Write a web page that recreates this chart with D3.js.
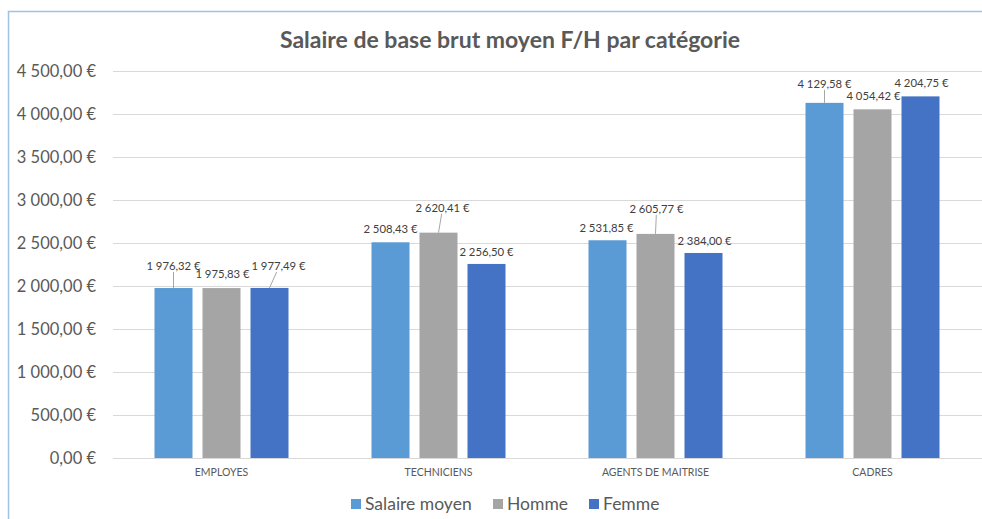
<!DOCTYPE html>
<html>
<head>
<meta charset="utf-8">
<script src="https://cdn.jsdelivr.net/npm/d3@7"></script>
<style>
  body { margin: 0; background: #fff; }
  svg { display: block; font-family: Lato, "Open Sans", sans-serif; }
</style>
</head>
<body>
<div id="chart"></div>
<script>
// data
const categories = ["EMPLOYES", "TECHNICIENS", "AGENTS DE MAITRISE", "CADRES"];
const seriesNames = ["Salaire moyen", "Homme", "Femme"];
const salaireMoyen = [1976.32, 2508.43, 2531.85, 4129.58];
const homme = [1975.83, 2620.41, 2605.77, 4054.42];
const femme = [1977.49, 2256.50, 2384.00, 4204.75];
const yTicks = [0, 500, 1000, 1500, 2000, 2500, 3000, 3500, 4000, 4500];

// layout
const width = 982, height = 519;
const margin = {top: 71, bottom: 61, left: 113, right: 1};
const colors = ["#5B9BD5", "#A5A5A5", "#4472C4"];
// label nudges [dx, dy] per category / series (Excel moved some labels)
const labelNudge = [
  [[0, -10], [1, -2], [9, -10]],
  [[0, -1], [4, -13], [0, 0]],
  [[-1, 0], [1, -13], [1, 0]],
  [[0, -7], [1, -1], [1, -1]]
];

const values = [salaireMoyen, homme, femme];
const rows = categories.map((c, i) => ({
  cat: c,
  vals: values.map((s, j) => ({ key: seriesNames[j], value: s[i], j: j, i: i }))
}));

const fr = d3.formatLocale({decimal: ",", thousands: "\u00a0", grouping: [3], currency: ["", " €"]});
const fmt = v => fr.format(",.2f")(v) + " €";

const svg = d3.select("#chart")
  .append("svg")
  .attr("width", width)
  .attr("height", height);

// frame (partially visible border)
svg.append("path")
  .attr("d", "M8.5," + height + " V11.5 H" + width)
  .attr("fill", "none")
  .attr("stroke", "#9DC3E6")
  .attr("stroke-width", 1.5);

const x0 = d3.scaleBand()
  .domain(categories)
  .range([margin.left, width - margin.right]);

const x1 = d3.scaleBand()
  .domain(seriesNames)
  .range([41.5, x0.bandwidth() - 41.5])
  .paddingInner(10 / 48);

const yScale = d3.scaleLinear()
  .domain([0, 4500])
  .range([height - margin.bottom, margin.top]);

// gridlines
svg.append("g")
  .selectAll("line")
  .data(yTicks)
  .enter()
  .append("line")
  .attr("x1", margin.left)
  .attr("x2", width)
  .attr("y1", d => Math.round(yScale(d)) + 0.5)
  .attr("y2", d => Math.round(yScale(d)) + 0.5)
  .attr("stroke", "#D9D9D9")
  .attr("stroke-width", 1);

// y axis labels
const yAxis = svg.append("g")
  .attr("transform", "translate(" + (margin.left - 17) + ",0)")
  .call(d3.axisLeft(yScale).tickValues(yTicks).tickFormat(fmt).tickSize(0).tickPadding(0));
yAxis.select(".domain").remove();
yAxis.selectAll("text")
  .attr("fill", "#595959")
  .style("font-size", "16.5px")
  .style("font-family", "Lato, sans-serif");

// x axis labels
const xAxis = svg.append("g")
  .attr("transform", "translate(0," + (height - margin.bottom) + ")")
  .call(d3.axisBottom(x0).tickSize(0).tickPadding(11));
xAxis.select(".domain").remove();
xAxis.selectAll("text")
  .attr("fill", "#595959")
  .style("font-size", "10.5px")
  .style("font-family", "Lato, sans-serif");

// bars
const groups = svg.selectAll(".grp")
  .data(rows)
  .enter()
  .append("g")
  .attr("class", "grp")
  .attr("transform", d => "translate(" + x0(d.cat) + ",0)");

groups.selectAll("rect")
  .data(d => d.vals)
  .enter()
  .append("rect")
  .attr("x", d => x1(d.key))
  .attr("width", x1.bandwidth())
  .attr("y", d => yScale(d.value))
  .attr("height", d => yScale(0) - yScale(d.value))
  .attr("fill", d => colors[d.j]);

// leader lines
groups.selectAll(".leader")
  .data(d => d.vals.filter(v => labelNudge[v.i][v.j][1] <= -7))
  .enter()
  .append("line")
  .attr("class", "leader")
  .attr("x1", d => x1(d.key) + x1.bandwidth() / 2)
  .attr("y1", d => yScale(d.value))
  .attr("x2", d => x1(d.key) + x1.bandwidth() / 2 + labelNudge[d.i][d.j][0] * 0.8)
  .attr("y2", d => yScale(d.value) - 12 + labelNudge[d.i][d.j][1] + 6)
  .attr("stroke", "#A6A6A6")
  .attr("stroke-width", 1);

// value labels
groups.selectAll(".lbl")
  .data(d => d.vals)
  .enter()
  .append("text")
  .attr("class", "lbl")
  .attr("x", d => x1(d.key) + x1.bandwidth() / 2 + labelNudge[d.i][d.j][0])
  .attr("y", d => yScale(d.value) - 12 + labelNudge[d.i][d.j][1])
  .attr("dy", "0.35em")
  .attr("text-anchor", "middle")
  .attr("fill", "#404040")
  .style("font-size", "11.3px")
  .text(d => fmt(d.value));

// title
svg.append("text")
  .attr("x", 510)
  .attr("y", 40)
  .attr("dy", "0.35em")
  .attr("text-anchor", "middle")
  .attr("fill", "#595959")
  .style("font-size", "23px")
  .style("font-weight", "bold")
  .text("Salaire de base brut moyen F/H par catégorie");

// legend
const legendX = [351, 493, 589];
const legend = svg.selectAll(".legend")
  .data(seriesNames)
  .enter()
  .append("g")
  .attr("class", "legend")
  .attr("transform", (d, i) => "translate(" + legendX[i] + ",504)");

legend.append("rect")
  .attr("x", 0)
  .attr("y", -5)
  .attr("width", 10)
  .attr("height", 10)
  .attr("fill", (d, i) => colors[i]);

legend.append("text")
  .attr("x", 14)
  .attr("y", 0)
  .attr("dy", "0.35em")
  .attr("fill", "#595959")
  .style("font-size", "17.5px")
  .text(d => d);
</script>
</body>
</html>
